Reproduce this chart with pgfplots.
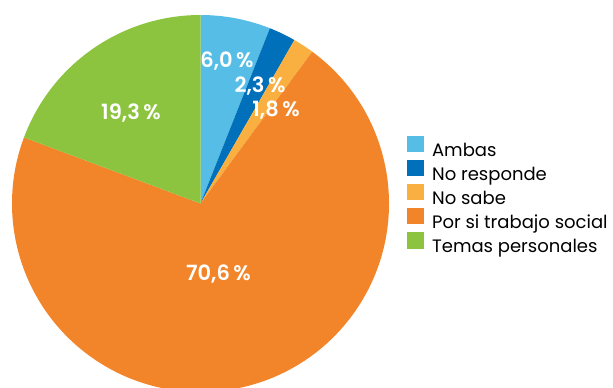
\documentclass[border=0pt]{standalone}
\usepackage{pgfplots}
\usepackage{pgfplotstable}
\pgfplotsset{compat=1.18}
\usepackage{fontspec}
\setmainfont{Poppins}[BoldFont={Poppins SemiBold}]

\definecolor{cAmbas}{HTML}{55BDE6}
\definecolor{cResp}{HTML}{0070BA}
\definecolor{cSabe}{HTML}{FAB040}
\definecolor{cPor}{HTML}{F2852A}
\definecolor{cTemas}{HTML}{8DC43F}

% porcentajes del grafico
\pgfplotstableread[col sep=comma]{
label,pct,color
Ambas,6.0,cAmbas
No responde,2.3,cResp
No sabe,1.8,cSabe
Por si trabajo social,70.6,cPor
Temas personales,19.3,cTemas
}\piedata

% armar las porciones (en sentido horario desde arriba)
\gdef\pieslices{}
\gdef\curang{90}
\pgfplotstablegetrowsof{\piedata}
\pgfmathtruncatemacro\lastrow{\pgfplotsretval-1}
\foreach \i in {0,...,\lastrow}{
  \pgfplotstablegetelem{\i}{pct}\of\piedata \let\v\pgfplotsretval
  \pgfplotstablegetelem{\i}{color}\of\piedata \let\c\pgfplotsretval
  \pgfmathsetmacro\endang{\curang-3.6*\v}
  \xdef\pieslices{\pieslices
    \noexpand\fill[\c] (axis cs:200.5,184.5) -- ++(\curang:188.5bp)
      arc[start angle=\curang, end angle=\endang, radius=188.5bp] -- cycle;}
  \xdef\curang{\endang}
}

\pgfplotsset{sq legend/.style={legend image code/.code={\fill[##1] (0bp,-1.5bp) rectangle (15.5bp,14bp);}}}

\begin{document}
\begin{tikzpicture}
\begin{axis}[
    width=613bp, height=388bp, scale only axis,
    xmin=0, xmax=613, ymin=0, ymax=388,
    hide axis,
    sq legend,
    legend cell align=left,
    legend style={at={(axis cs:407,252.5)}, anchor=north west,
        draw=none, fill=none, font=\fontsize{18bp}{20bp}\selectfont,
        inner sep=0pt, row sep=3.2bp,
        nodes={inner sep=0pt, text depth=0pt},
        /tikz/every even column/.append style={column sep=0bp}},
    ]
\pieslices
\addlegendimage{cAmbas}\addlegendentry{\hspace{9bp}Ambas}
\addlegendimage{cResp}\addlegendentry{\hspace{9bp}No responde}
\addlegendimage{cSabe}\addlegendentry{\hspace{9bp}No sabe}
\addlegendimage{cPor}\addlegendentry{\hspace{9bp}Por si trabajo social}
\addlegendimage{cTemas}\addlegendentry{\hspace{9bp}Temas personales}

\begin{scope}[every node/.style={text=white, font=\bfseries\fontsize{21bp}{22bp}\selectfont, anchor=base}]
\node at (axis cs:227,320) {6,0\,\%};
\node at (axis cs:260,295) {2,3\,\%};
\node at (axis cs:276,271) {1,8\,\%};
\node at (axis cs:131,268) {19,3\,\%};
\node at (axis cs:218.5,107) {70,6\,\%};
\end{scope}
\end{axis}
\pgfresetboundingbox
\path (0,0) rectangle (613bp,388bp);
\end{tikzpicture}
\end{document}
